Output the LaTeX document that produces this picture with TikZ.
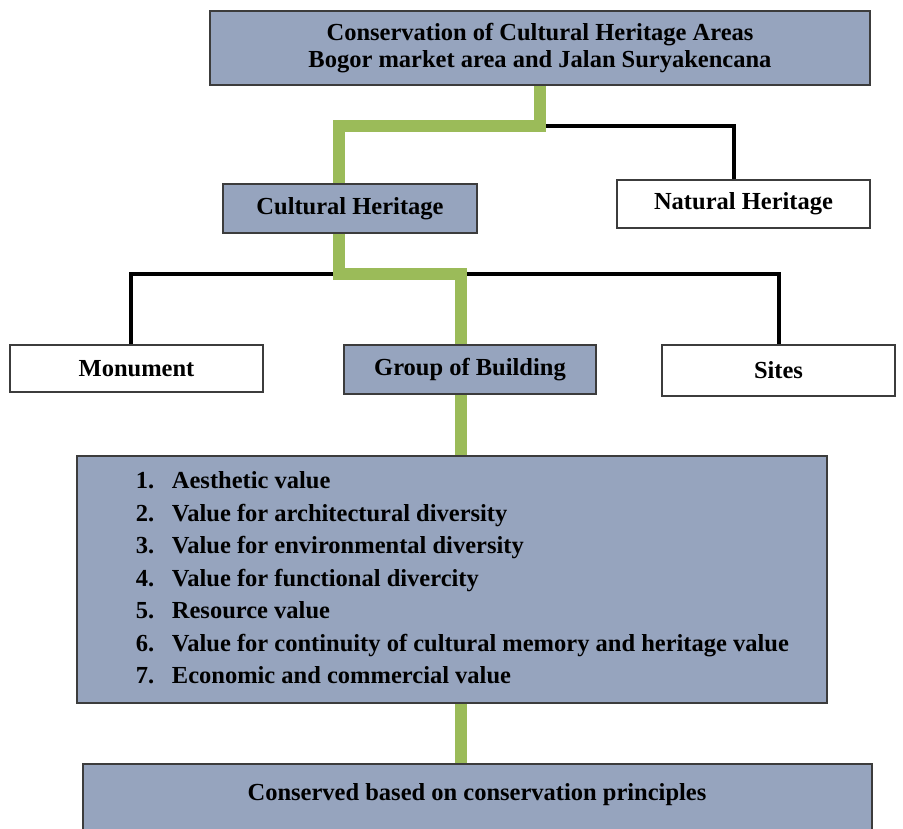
\documentclass[tikz,border=0pt]{standalone}
\usepackage{fontspec}
\setmainfont{Liberation Serif}
\usetikzlibrary{backgrounds}
\definecolor{cSlate}{HTML}{96A4BE}
\definecolor{cLeaf}{HTML}{9BBB59}
\definecolor{cEdge}{HTML}{3C3C3C}
\tikzset{
  box/.style={
    rectangle, draw=cEdge, line width=2pt, fill=#1,
    align=center, inner sep=0pt,
    font=\fontsize{24.5}{27}\selectfont\bfseries
  },
  sbox/.style={box=cSlate},
  wbox/.style={box=white},
  gline/.style={cLeaf, line width=12pt},
  bline/.style={black, line width=4pt},
}
\begin{document}
\begin{tikzpicture}[x=1pt, y=-1pt]

  \useasboundingbox (0,0) rectangle (903,828);
  \clip (0,0) rectangle (903,828);

  % Top
  \node[sbox, minimum width=660pt, minimum height=74pt] (area) at (540,48) {
    Conservation of Cultural Heritage Areas\\
    Bogor market area and Jalan Suryakencana
  };

  % Heritage types
  \node[sbox, minimum width=254pt, minimum height=49pt] (cult) at (350,208.5) {Cultural Heritage};
  \node[wbox, minimum width=253pt, minimum height=48pt] (nat) at (743.5,204) {Natural Heritage};

  % Cultural heritage kinds
  \node[wbox, minimum width=253pt, minimum height=47pt] (mon) at (136.5,368.5) {Monument};
  \node[sbox, minimum width=252pt, minimum height=49pt] (group) at (470,369.5) {Group of Building};
  \node[wbox, minimum width=233pt, minimum height=51pt] (sites) at (778.5,370.5) {Sites};

  % Values
  \node[sbox, minimum width=750pt, minimum height=247pt,
        font=\fontsize{24.5}{32.5}\selectfont\bfseries] (values) at (452,579.5) {
    \begin{tabular}{@{\hspace{27pt}}l@{\hspace{17.6pt}}l@{}}
      1. & Aesthetic value\\
      2. & Value for architectural diversity\\
      3. & Value for environmental diversity\\
      4. & Value for functional divercity\\
      5. & Resource value\\
      6. & Value for continuity of cultural memory and heritage value\\
      7. & Economic and commercial value
    \end{tabular}
  };

  % Result
  \node[sbox, anchor=north, minimum width=789pt, inner ysep=19pt, text depth=70pt]
    (princ) at (477,763) {Conserved based on conservation principles};

  % Connectors
  \coordinate (hubA) at (540,126);
  \coordinate (hubB) at (461,274);
  \coordinate (cultX) at (339,0);
  \coordinate (natX) at (734,0);
  \coordinate (monX) at (131,0);

  \begin{scope}[on background layer]
    \draw[bline] (hubA) -| (nat.north -| natX);
    \draw[bline] (mon.north -| monX) |- (hubB) -| (sites.north);
    \draw[gline] (area.south) -- (hubA) -| (cult.north -| cultX);
    \draw[gline] (cult.south -| cultX) |- (hubB) -- (group.north -| hubB);
    \draw[gline] (group.south -| hubB) -- (values.north -| hubB);
    \draw[gline] (values.south -| hubB) -- (princ.north -| hubB);
  \end{scope}

\end{tikzpicture}
\end{document}
